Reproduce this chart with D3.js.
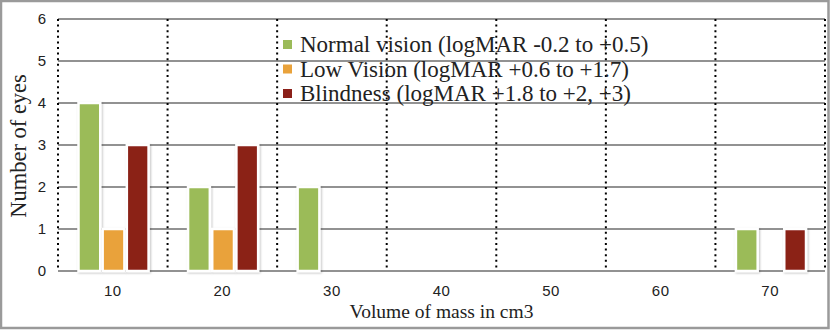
<!DOCTYPE html>
<html>
<head>
<meta charset="utf-8">
<script src="https://cdn.jsdelivr.net/npm/d3@7"></script>
<style>
  html, body { margin: 0; padding: 0; background: #fff; }
  svg { display: block; }
</style>
</head>
<body>
<svg id="chart" width="830" height="330"></svg>
<script>
const categories = ["10", "20", "30", "40", "50", "60", "70"];
const seriesNames = [
  "Normal vision (logMAR -0.2 to +0.5)",
  "Low Vision (logMAR +0.6 to +1.7)",
  "Blindness (logMAR +1.8 to +2, +3)"
];
const normalVision = [4, 2, 2, 0, 0, 0, 1];
const lowVision    = [1, 1, 0, 0, 0, 0, 0];
const blindness    = [3, 3, 0, 0, 0, 0, 1];
const yTicks = [0, 1, 2, 3, 4, 5, 6];
const colors = ["#9bbb59", "#e9a23b", "#8b2019"];
const xTitle = "Volume of mass in cm3";
const yTitle = "Number of eyes";

const seriesValues = [normalVision, lowVision, blindness];
const rows = categories.map((c, i) => ({
  cat: c,
  vals: seriesValues.map((s, j) => ({ key: j, value: s[i] }))
}));

const svg = d3.select("#chart");
const W = 830, H = 330;
const plot = { left: 58, right: 825, top: 19, bottom: 271 };

const defs = svg.append("defs");
const f = defs.append("filter").attr("id", "shadow")
  .attr("x", "-30%").attr("y", "-30%").attr("width", "160%").attr("height", "160%");
f.append("feDropShadow").attr("dx", 1).attr("dy", 1)
  .attr("stdDeviation", 1.2).attr("flood-color", "#000").attr("flood-opacity", 0.25);

const x = d3.scaleBand().domain(categories).range([plot.left, plot.right]).paddingInner(0).paddingOuter(0);
const xSub = d3.scaleBand().domain(d3.range(seriesNames.length))
  .range([20.5, x.bandwidth() - 19]).paddingInner(0.1);
const y = d3.scaleLinear().domain([0, 6]).range([plot.bottom, plot.top]);

// horizontal gridlines
svg.append("g")
  .selectAll("line").data(yTicks).join("line")
  .attr("x1", plot.left).attr("x2", plot.right)
  .attr("y1", d => y(d)).attr("y2", d => y(d))
  .attr("stroke", "#6e6e6e").attr("stroke-width", 1.6);

// vertical dotted lines at band boundaries
const bounds = categories.map(c => x(c)).concat([plot.right]);
svg.append("g")
  .selectAll("line").data(bounds).join("line")
  .attr("x1", d => d).attr("x2", d => d)
  .attr("y1", plot.top).attr("y2", plot.bottom)
  .attr("stroke", "#000").attr("stroke-width", 2)
  .attr("stroke-dasharray", "2,3.6");

// bars
const groups = svg.append("g").selectAll("g").data(rows).join("g")
  .attr("transform", d => `translate(${x(d.cat)},0)`);
groups.selectAll("rect").data(d => d.vals.filter(v => v.value > 0)).join("rect")
  .attr("x", d => xSub(d.key))
  .attr("width", xSub.bandwidth())
  .attr("y", d => y(d.value))
  .attr("height", d => y(0) - y(d.value))
  .attr("fill", d => colors[d.key])
  .attr("stroke", "#fff").attr("stroke-width", 2.5)
  .attr("filter", "url(#shadow)");

// y axis tick labels
const yAxis = d3.axisLeft(y).tickValues(yTicks).tickSize(0).tickPadding(0).tickFormat(d3.format("d"));
const yg = svg.append("g").attr("transform", `translate(46,0)`).call(yAxis);
yg.select(".domain").remove();
yg.selectAll("text").attr("font-family", "Liberation Sans, Arial, sans-serif")
  .attr("font-size", 15).attr("fill", "#222");

// x axis tick labels
const xAxis = d3.axisBottom(x).tickSize(0).tickPadding(0);
const xg = svg.append("g").attr("transform", `translate(0,${plot.bottom + 14})`).call(xAxis);
xg.select(".domain").remove();
xg.selectAll("text").attr("font-family", "Liberation Sans, Arial, sans-serif")
  .attr("font-size", 15).attr("fill", "#222").attr("letter-spacing", 0.5);

// axis titles
svg.append("text")
  .attr("x", (plot.left + plot.right) / 2).attr("y", 318)
  .attr("text-anchor", "middle")
  .attr("font-family", "Liberation Serif, serif").attr("font-size", 19.5).attr("fill", "#222")
  .text(xTitle);
svg.append("text")
  .attr("transform", "translate(26,146) rotate(-90)")
  .attr("text-anchor", "middle")
  .attr("font-family", "Liberation Serif, serif").attr("font-size", 22.5).attr("fill", "#222")
  .text(yTitle);

// legend
const legend = svg.append("g").attr("transform", "translate(283,44)");
const li = legend.selectAll("g").data(seriesNames).join("g")
  .attr("transform", (d, i) => `translate(0,${i * 24.5})`);
li.append("rect").attr("x", 0).attr("y", -4).attr("width", 9).attr("height", 9)
  .attr("fill", (d, i) => colors[i]);
li.append("text").attr("x", 17).attr("y", 8)
  .attr("font-family", "Liberation Serif, serif").attr("font-size", 23).attr("fill", "#222")
  .text(d => d);

// outer frame
svg.append("rect").attr("x", 1).attr("y", 1).attr("width", W - 2.5).attr("height", H - 3)
  .attr("fill", "none").attr("stroke", "#9a9a9a").attr("stroke-width", 2.5);
</script>
</body>
</html>
